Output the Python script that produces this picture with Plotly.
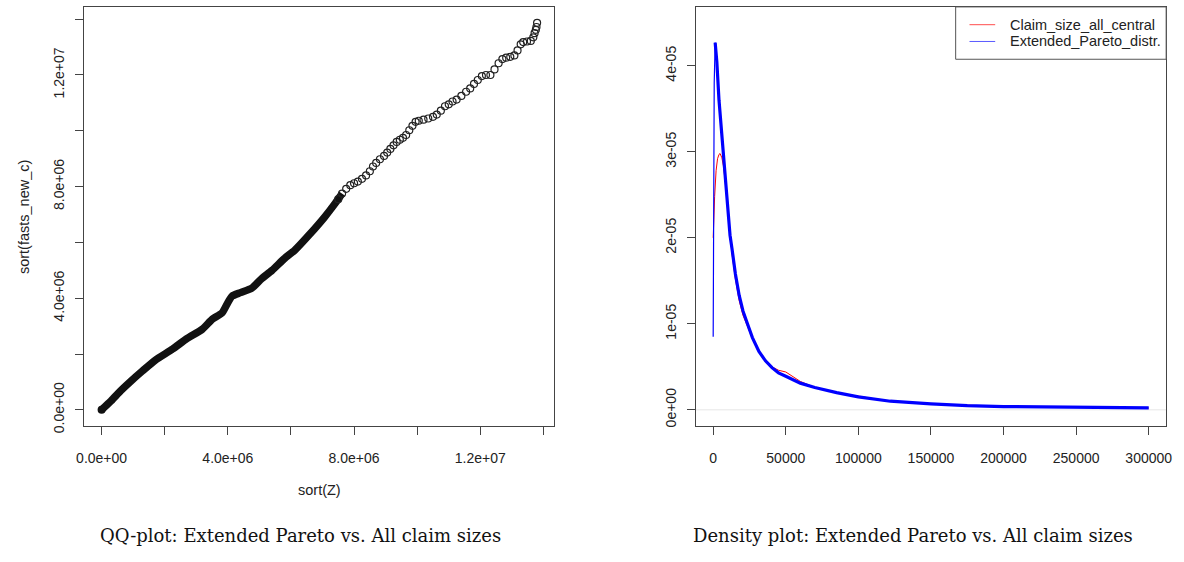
import plotly.graph_objects as go

# ---------------- data ----------------
# QQ plot: sorted quantiles, units of 1e6
qq_dense_x = [0, 0.3, 0.6, 0.9, 1.3, 1.7, 2.25, 2.7, 3.19, 3.51, 3.82, 3.98, 4.13, 4.4, 4.76,
              5.07, 5.4, 5.8, 6.12, 6.6, 7.06, 7.4, 7.62]
qq_dense_y = [0, 0.32, 0.68, 1.0, 1.4, 1.78, 2.18, 2.55, 2.89, 3.25, 3.48, 3.8, 4.07, 4.2, 4.36,
              4.7, 5.0, 5.43, 5.72, 6.3, 6.9, 7.4, 7.75]
qq_pts_x = [7.50, 7.62, 7.75, 7.88, 8.00, 8.12, 8.25, 8.38, 8.50, 8.60, 8.70, 8.82, 8.95, 9.05,
            9.15, 9.25, 9.35, 9.45, 9.55, 9.65, 9.75, 9.85, 9.95, 10.05, 10.20, 10.35, 10.50,
            10.62, 10.75, 10.88, 11.00, 11.12, 11.25, 11.40, 11.55, 11.68, 11.80, 11.92, 12.05,
            12.18, 12.32, 12.45, 12.58, 12.70, 12.82, 12.95, 13.08, 13.18, 13.28, 13.36, 13.48,
            13.60, 13.68, 13.72, 13.76, 13.78, 13.80]
qq_pts_y = [7.55, 7.75, 7.92, 8.05, 8.12, 8.18, 8.28, 8.40, 8.55, 8.72, 8.85, 8.98, 9.10, 9.22,
            9.35, 9.48, 9.60, 9.68, 9.75, 9.85, 10.02, 10.18, 10.32, 10.36, 10.40, 10.44, 10.50,
            10.58, 10.72, 10.88, 10.95, 11.05, 11.12, 11.25, 11.40, 11.52, 11.68, 11.82, 11.96,
            12.00, 12.00, 12.20, 12.42, 12.57, 12.62, 12.65, 12.70, 12.88, 13.10, 13.18, 13.20,
            13.22, 13.35, 13.50, 13.62, 13.72, 13.87]

# Density plot (density in units of 1e-5)
blue_rise_x = [0, 300, 700, 1360]
blue_rise_y = [0.85, 2.70, 3.80, 4.27]
blue_x = [1360, 2500, 4000, 5500, 7000, 8500, 10000, 11600, 12900, 15300, 17900,
          20500, 23600, 27000, 31500, 36000, 40500, 45000, 50000, 60000, 70000, 85000, 100000,
          122000, 150000, 175000, 200000, 230000, 260000, 300000]
blue_y = [4.27, 4.05, 3.60, 3.30, 2.93, 2.60, 2.30, 2.03, 1.88, 1.58, 1.33,
          1.15, 1.00, 0.84, 0.68, 0.57, 0.49, 0.43, 0.39, 0.31, 0.26, 0.20, 0.15,
          0.10, 0.07, 0.048, 0.038, 0.032, 0.026, 0.022]
red_x = [0, 500, 1000, 2000, 3000, 4000, 4760, 6000, 7000, 8000, 9000, 10000, 11600, 12900,
         15300, 17900, 20500, 23600, 27000, 31500, 36000, 40500, 45000, 50000, 55000, 60000,
         70000, 85000, 95000, 100000, 110000, 122000, 150000, 160000, 175000, 200000, 230000,
         240000, 270000, 300000]
red_y = [2.00, 2.28, 2.48, 2.78, 2.92, 2.97, 2.98, 2.93, 2.84, 2.70, 2.50, 2.30, 2.02, 1.82,
         1.52, 1.27, 1.10, 0.98, 0.83, 0.68, 0.57, 0.50, 0.46, 0.44, 0.39, 0.33,
         0.26, 0.20, 0.17, 0.16, 0.13, 0.10, 0.07, 0.062, 0.05, 0.038, 0.033,
         0.03, 0.024, 0.021]

qq_ticks = [0, 2, 4, 6, 8, 10, 12, 14]
qq_ticktext = ["0.0e+00", "", "4.0e+06", "", "8.0e+06", "", "1.2e+07", ""]
dens_xticks = [0, 50000, 100000, 150000, 200000, 250000, 300000]
dens_yticks = [0, 1, 2, 3, 4]
dens_yticktext = ["0e+00", "1e-05", "2e-05", "3e-05", "4e-05"]

legend_names = ["Claim_size_all_central", "Extended_Pareto_distr."]
legend_colors = ["#ff4d4d", "#5a5aff"]
captions = ["QQ-plot: Extended Pareto vs. All claim sizes",
            "Density plot: Extended Pareto vs. All claim sizes"]

# ---------------- figure ----------------
W, H = 1184, 562
def px_x(p): return p / W
def px_y(p): return 1 - p / H

fig = go.Figure()

fig.add_trace(go.Scatter(x=[v * 1e6 for v in qq_dense_x], y=[v * 1e6 for v in qq_dense_y],
                         mode="lines", line=dict(color="#111", width=7.5, shape="spline",
                                                 smoothing=0.6),
                         xaxis="x", yaxis="y", showlegend=False, hoverinfo="skip"))
fig.add_trace(go.Scatter(x=[qq_dense_x[0] * 1e6], y=[qq_dense_y[0] * 1e6], mode="markers",
                         marker=dict(symbol="circle", size=8, color="#111"),
                         xaxis="x", yaxis="y", showlegend=False, hoverinfo="skip"))
fig.add_trace(go.Scatter(x=[v * 1e6 for v in qq_pts_x], y=[v * 1e6 for v in qq_pts_y],
                         mode="markers",
                         marker=dict(symbol="circle-open", size=7, color="#222",
                                     line=dict(width=1.2, color="#222")),
                         xaxis="x", yaxis="y", showlegend=False))

fig.add_trace(go.Scatter(x=red_x, y=[v * 1e-5 for v in red_y], mode="lines",
                         line=dict(color="#ff0000", width=1), xaxis="x2", yaxis="y2",
                         name=legend_names[0], showlegend=False))
fig.add_trace(go.Scatter(x=blue_rise_x, y=[v * 1e-5 for v in blue_rise_y], mode="lines",
                         line=dict(color="#0000ff", width=1.2), xaxis="x2", yaxis="y2",
                         showlegend=False))
fig.add_trace(go.Scatter(x=blue_x, y=[v * 1e-5 for v in blue_y], mode="lines",
                         line=dict(color="#0000ff", width=3.2), xaxis="x2", yaxis="y2",
                         name=legend_names[1], showlegend=False))

FONT = "Liberation Sans, Arial, Helvetica, sans-serif"
tick_font = dict(family=FONT, size=14, color="#222")
title_font = dict(family=FONT, size=14.5, color="#222")
common = dict(showgrid=False, zeroline=False, showline=True, linecolor="#444", linewidth=1,
              mirror=True, ticks="outside", ticklen=8, tickcolor="#444", tickwidth=1,
              tickfont=tick_font)

top, bottom = 7, 431
fig.update_layout(
    width=W, height=H, margin=dict(l=0, r=0, t=0, b=0),
    paper_bgcolor="white", plot_bgcolor="white", showlegend=False,
    xaxis=dict(domain=[px_x(77), px_x(553)], range=[-0.555e6, 14.35e6],
               tickvals=[v * 1e6 for v in qq_ticks], ticktext=qq_ticktext,
               anchor="y", ticklabelstandoff=12, **common),
    yaxis=dict(domain=[px_y(bottom), px_y(top)], range=[-0.566e6, 14.44e6],
               tickvals=[v * 1e6 for v in qq_ticks], ticktext=qq_ticktext,
               anchor="x", tickangle=-90, ticklabelstandoff=5, **common),
    xaxis2=dict(domain=[px_x(696), px_x(1172)], range=[-12000, 312000],
                tickvals=dens_xticks, ticktext=[str(v) for v in dens_xticks],
                anchor="y2", ticklabelstandoff=12, **common),
    yaxis2=dict(domain=[px_y(bottom), px_y(top)], range=[-0.184e-5, 4.685e-5],
                tickvals=[v * 1e-5 for v in dens_yticks], ticktext=dens_yticktext,
                anchor="x2", tickangle=-90, ticklabelstandoff=5, **common),
)

# zero line of the density plot
fig.add_shape(type="line", xref="x2 domain", yref="y2", x0=0, x1=1, y0=0, y1=0,
              line=dict(color="#e6e6e6", width=1), layer="below")

# legend box (drawn like R's legend())
fig.add_shape(type="rect", xref="paper", yref="paper", x0=px_x(959), x1=px_x(1172),
              y0=px_y(60), y1=px_y(top), line=dict(color="#555", width=1),
              fillcolor="white", layer="above")
for i, (name, col) in enumerate(zip(legend_names, legend_colors)):
    yy = 25 + 17 * i
    fig.add_shape(type="line", xref="paper", yref="paper", x0=px_x(973), x1=px_x(999),
                  y0=px_y(yy), y1=px_y(yy), line=dict(color=col, width=1), layer="above")
    fig.add_annotation(text=name, xref="paper", yref="paper", x=px_x(1012), y=px_y(yy),
                       showarrow=False, font=title_font, xanchor="left", yanchor="middle")

# axis titles
fig.add_annotation(text="sort(Z)", xref="paper", yref="paper", x=px_x(315), y=px_y(496),
                   showarrow=False, font=title_font, xanchor="center", yanchor="middle")
fig.add_annotation(text="sort(fasts_new_c)", xref="paper", yref="paper", x=px_x(16),
                   y=px_y(220), showarrow=False, font=title_font, textangle=-90,
                   xanchor="center", yanchor="middle")

# captions
cap_font = dict(family="DejaVu Serif, serif", size=18, color="#111")
fig.add_annotation(text=captions[0], xref="paper", yref="paper", x=px_x(296), y=px_y(542),
                   showarrow=False, font=cap_font, xanchor="center", yanchor="middle")
fig.add_annotation(text=captions[1], xref="paper", yref="paper", x=px_x(916), y=px_y(542),
                   showarrow=False, font=cap_font, xanchor="center", yanchor="middle")

fig.write_html("out.html")
